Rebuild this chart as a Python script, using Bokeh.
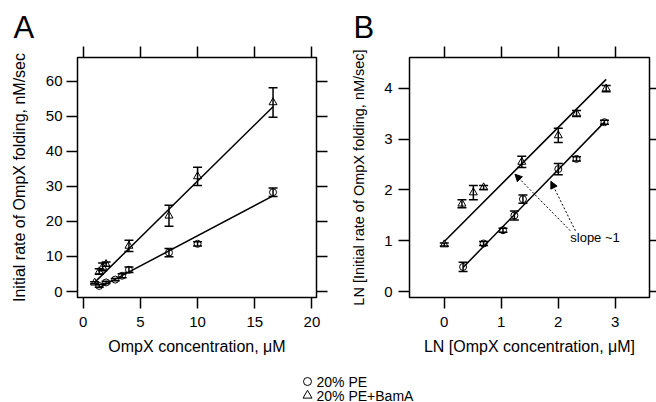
from bokeh.plotting import figure
from bokeh.models import (Range1d, LinearAxis, FixedTicker, Whisker, TeeHead,
                          ColumnDataSource, Arrow, NormalHead, Label,
                          CustomJSTickFormatter)
from bokeh.layouts import column, row
from bokeh.core.properties import value
from bokeh.embed import file_html
from bokeh.resources import INLINE

FONT = "Liberation Sans"

# ---------------- Panel A data (linear) ----------------
a_x_pe = [1.4, 2.0, 2.8, 3.4, 4.0, 7.5, 10.0, 16.6]
a_y_pe = [1.6, 2.6, 3.4, 4.5, 6.2, 11.1, 13.6, 28.3]
a_err_pe = [0.4, 0.3, 0.3, 0.6, 0.8, 1.2, 0.6, 1.2]

a_x_bam = [1.0, 1.4, 1.7, 2.0, 4.0, 7.5, 10.0, 16.6]
a_y_bam = [2.5, 5.7, 7.0, 7.8, 13.0, 21.6, 32.8, 53.9]
a_err_bam = [0.3, 0.8, 1.1, 0.6, 1.6, 3.0, 2.6, 4.2]

# linear fits (slope, intercept)
a_fit_pe = [1.72, -1.3]
a_fit_bam = [3.21, -0.6]

a_xticks = [0, 5, 10, 15, 20]
a_yticks = [0, 10, 20, 30, 40, 50, 60]

# ---------------- Panel B data (LN) ----------------
b_x_pe = [0.33, 0.69, 1.03, 1.23, 1.38, 2.0, 2.32, 2.81]
b_y_pe = [0.49, 0.95, 1.21, 1.50, 1.82, 2.41, 2.61, 3.33]
b_err_pe = [0.09, 0.04, 0.04, 0.09, 0.08, 0.11, 0.04, 0.04]

b_x_bam = [0.0, 0.31, 0.51, 0.69, 1.36, 2.0, 2.32, 2.84]
b_y_bam = [0.93, 1.73, 1.95, 2.05, 2.55, 3.07, 3.50, 3.99]
b_err_bam = [0.03, 0.08, 0.14, 0.04, 0.11, 0.14, 0.06, 0.06]

b_fit_pe = [1.15, 0.10]
b_fit_bam = [1.12, 0.99]

b_xticks = [0, 1, 2, 3]
b_yticks = [0, 1, 2, 3, 4]

# annotation arrows in panel B ("slope ~1")
arrow_x0 = [2.21, 2.30]
arrow_y0 = [1.20, 1.20]
arrow_x1 = [1.24, 1.87]
arrow_y1 = [2.31, 2.17]
slope_label = "slope ~1"

panel_letters = ["A", "B"]
legend_labels = ["20% PE", "20% PE+BamA"]

EMPTY = CustomJSTickFormatter(code="return ''")


def style_axis(ax, ticks, show_labels=True, tick_out=11):
    ax.ticker = FixedTicker(ticks=ticks)
    ax.major_tick_out = tick_out
    ax.major_tick_in = 0
    ax.minor_tick_out = 0
    ax.minor_tick_in = 0
    ax.major_tick_line_width = 1.5
    ax.major_tick_line_color = "black"
    ax.axis_line_color = None
    ax.major_label_text_font = FONT
    ax.major_label_text_color = "black"
    ax.axis_label_text_font = FONT
    ax.axis_label_text_font_style = "normal"
    ax.axis_label_text_color = "black"
    ax.axis_label_text_font_size = "16px"
    if show_labels:
        ax.major_label_text_font_size = "15px"
    else:
        ax.formatter = EMPTY
        ax.major_label_text_font_size = "1px"
        ax.major_label_standoff = 0


def make_panel(width, xr, yr, xticks, yticks, bl, br, xlabel, ylabel,
               y_standoff, y_title_standoff, right_tick, y_title_size):
    p = figure(width=width, height=324, x_range=Range1d(*xr), y_range=Range1d(*yr),
               output_backend="svg", toolbar_location=None,
               min_border_left=bl, min_border_right=br,
               min_border_top=11, min_border_bottom=73)
    p.grid.visible = False
    p.outline_line_color = "black"
    p.outline_line_width = 1.5
    p.background_fill_color = "white"
    p.border_fill_color = "white"
    style_axis(p.xaxis[0], xticks)
    style_axis(p.yaxis[0], yticks)
    p.xaxis[0].axis_label = xlabel
    p.yaxis[0].axis_label = ylabel
    p.yaxis[0].axis_label_text_font_size = y_title_size
    p.xaxis[0].major_label_standoff = 8
    p.xaxis[0].axis_label_standoff = 8
    p.yaxis[0].major_label_standoff = y_standoff
    p.yaxis[0].axis_label_standoff = y_title_standoff
    top = LinearAxis()
    style_axis(top, xticks, show_labels=False)
    p.add_layout(top, "above")
    rgt = LinearAxis()
    style_axis(rgt, yticks, show_labels=False, tick_out=right_tick)
    p.add_layout(rgt, "right")
    return p


def add_series(p, xs, ys, errs, marker, size, fit):
    src = ColumnDataSource(dict(x=xs, y=ys,
                                lo=[y - e for y, e in zip(ys, errs)],
                                hi=[y + e for y, e in zip(ys, errs)]))
    w = Whisker(source=src, base="x", lower="lo", upper="hi", dimension="height",
                line_width=1.5, line_color="black",
                lower_head=TeeHead(size=9, line_width=1.5, line_color="black"),
                upper_head=TeeHead(size=9, line_width=1.5, line_color="black"))
    p.add_layout(w)
    p.scatter("x", "y", source=src, marker=marker, size=size,
              fill_color=None, line_color="black", line_width=1)
    x0, x1 = min(xs), max(xs)
    p.line([x0, x1], [fit[0] * x0 + fit[1], fit[0] * x1 + fit[1]],
           line_color="black", line_width=1.5)


# ---------------- Top strip with panel letters ----------------
pT = figure(width=656, height=46, x_range=Range1d(0, 656), y_range=Range1d(0, 46),
            output_backend="svg", toolbar_location=None,
            x_axis_type=None, y_axis_type=None,
            min_border_left=0, min_border_right=0, min_border_top=0, min_border_bottom=0)
pT.grid.visible = False
pT.outline_line_color = None
pT.text([13, 353], [19, 19], text=panel_letters, text_font=value(FONT),
        text_font_size="31px", text_baseline="middle", text_align="left",
        text_color="black")

# ---------------- Panel A ----------------
pA = make_panel(336, (-0.5, 20.4), (-1.7, 66.7), a_xticks, a_yticks, 77, 20,
                "OmpX concentration, \u03bcM", "Initial rate of OmpX folding, nM/sec",
                4, 15, 11, "16px")
add_series(pA, a_x_pe, a_y_pe, a_err_pe, "circle", 7, a_fit_pe)
add_series(pA, a_x_bam, a_y_bam, a_err_bam, "triangle", 8, a_fit_bam)

# ---------------- Panel B ----------------
pB = make_panel(320, (-0.61, 3.6), (-0.11, 4.6), b_xticks, b_yticks, 73, 7,
                "LN [OmpX concentration, \u03bcM]",
                "LN [Initial rate of OmpX folding, nM/sec]",
                6, 14, 7, "14.5px")
add_series(pB, b_x_pe, b_y_pe, b_err_pe, "circle", 7, b_fit_pe)
add_series(pB, b_x_bam, b_y_bam, b_err_bam, "triangle", 8, b_fit_bam)
arr_src = ColumnDataSource(dict(x0=arrow_x0, y0=arrow_y0, x1=arrow_x1, y1=arrow_y1))
pB.add_layout(Arrow(source=arr_src, x_start="x0", y_start="y0", x_end="x1", y_end="y1",
                    line_dash="2 2", line_width=1, line_color="black",
                    end=NormalHead(size=7, fill_color="black", line_color="black",
                                   line_width=1)))
pB.add_layout(Label(x=2.21, y=1.07, text=slope_label, text_align="left",
                    text_baseline="middle", text_font=FONT, text_font_size="13px",
                    text_color="black"))

# ---------------- Legend strip ----------------
pL = figure(width=656, height=32, x_range=Range1d(0, 656), y_range=Range1d(0, 32),
            output_backend="svg", toolbar_location=None,
            x_axis_type=None, y_axis_type=None,
            min_border_left=0, min_border_right=0, min_border_top=0, min_border_bottom=0)
pL.grid.visible = False
pL.outline_line_color = None
leg_y = [21, 7]
pL.scatter([307], [leg_y[0]], marker="circle", size=8, fill_color=None,
           line_color="black", line_width=1)
pL.scatter([307], [leg_y[1]], marker="triangle", size=9, fill_color=None,
           line_color="black", line_width=1)
pL.text([316, 316], leg_y, text=legend_labels, text_font=value(FONT),
        text_font_size="14px", text_baseline="middle", text_align="left",
        text_color="black")

layout = column(pT, row(pA, pB), pL)

open("out.html", "w").write(file_html(layout, INLINE))
